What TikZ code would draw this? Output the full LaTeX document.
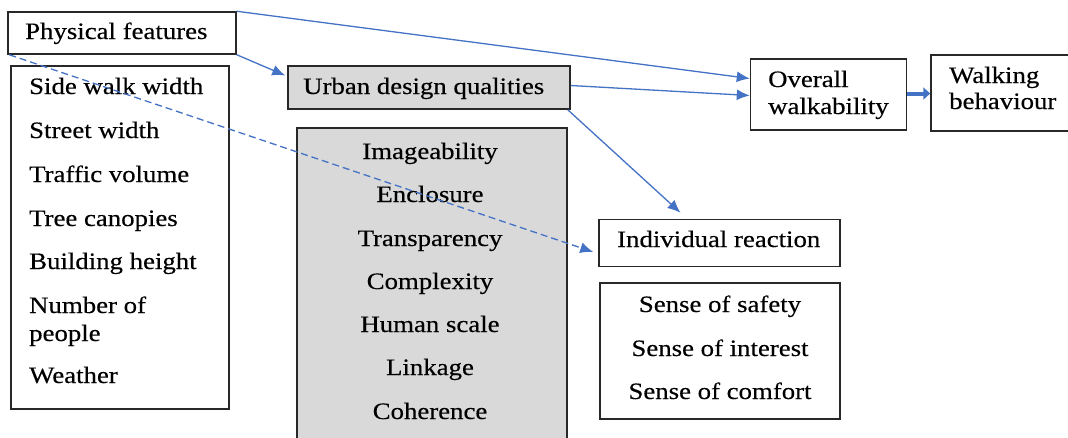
\documentclass[tikz,border=0pt]{standalone}
\usepackage{fontspec}
\setmainfont{Liberation Serif}[FakeStretch=1.14,FakeBold=0.35]
\usetikzlibrary{arrows.meta,calc}
\definecolor{arrowblue}{RGB}{68,114,196}
\definecolor{boxgray}{RGB}{217,217,217}
\definecolor{edge}{RGB}{40,40,40}
\begin{document}
\begin{tikzpicture}[x=1pt,y=-1pt,
  box/.style={draw=edge,line width=1.5pt,inner sep=0pt},
  graybox/.style={box,fill=boxgray},
  lbl/.style={inner sep=0pt,anchor=base west,font=\fontsize{23.5}{27}\selectfont,text=black},
  clbl/.style={lbl,anchor=base},
  conn/.style={draw=arrowblue,line width=1.3pt,-{Latex[length=13pt,width=11pt]}},
  thick conn/.style={draw=arrowblue,line width=4pt,-{Triangle[length=7pt,width=12pt]}}]
\useasboundingbox (0,0) rectangle (1068,437);
% boxes
\node[box,minimum width=228pt,minimum height=42pt] (pf) at (122,33) {};
\node[box,minimum width=218pt,minimum height=343pt] (pfl) at (120,237.5) {};
\node[graybox,minimum width=282pt,minimum height=43pt] (udq) at (429,87.5) {};
\node[graybox,minimum width=270pt,minimum height=330pt] (udl) at (432,293) {};
\node[box,minimum width=156pt,minimum height=71pt] (ow) at (828.5,94.5) {};
\node[box,minimum width=142pt,minimum height=76pt] (wb) at (1002,93) {};
\node[box,minimum width=241pt,minimum height=47pt] (ir) at (719.5,243) {};
\node[box,minimum width=240pt,minimum height=136pt] (irl) at (720,351) {};
% texts
\node[lbl] (tpf) at (25,39) {Physical features};
\node[lbl] (t1) at (29,94) {Side walk width};
\node[lbl] (t2) at (29,138) {Street width};
\node[lbl] (t3) at (29,182) {Traffic volume};
\node[lbl] (t4) at (29,226) {Tree canopies};
\node[lbl] (t5) at (29,269) {Building height};
\node[lbl] (t6) at (29,313) {Number of};
\node[lbl] (t6b) at (29,341) {people};
\node[lbl] (t7) at (29,383) {Weather};
\node[lbl] (tudq) at (303,94) {Urban design qualities};
\node[clbl] (u1) at (430,159) {Imageability};
\node[clbl] (u2) at (430,202) {Enclosure};
\node[clbl] (u3) at (430,246) {Transparency};
\node[clbl] (u4) at (430,289) {Complexity};
\node[clbl] (u5) at (430,332) {Human scale};
\node[clbl] (u6) at (430,375) {Linkage};
\node[clbl] (u7) at (430,419) {Coherence};
\node[lbl] (tow1) at (768,87) {Overall};
\node[lbl] (tow2) at (768,114) {walkability};
\node[lbl] (twb1) at (949,83) {Walking};
\node[lbl] (twb2) at (949,109) {behaviour};
\node[lbl] (tir) at (617,247) {Individual reaction};
\node[clbl] (s1) at (720,312) {Sense of safety};
\node[clbl] (s2) at (720,356) {Sense of interest};
\node[clbl] (s3) at (720,399) {Sense of comfort};
% connectors
\draw[conn] (pf.north east) -- ($(ow.west)+(0,-16)$);
\draw[conn] (pf.south east) -- ($(udq.west)+(-2,-12)$);
\draw[conn] ($(udq.east)+(0,-2)$) -- ($(ow.west)+(0,1)$);
\draw[conn] ($(udq.south east)+(-3,0)$) -- ($(ir.north)+(-39,-6)$);
\draw[conn,dashed,dash pattern=on 7pt off 4pt] ($(pf.south west)+(2,0)$) -- ($(ir.west)+(-5,9)$);
\draw[thick conn] ($(ow.east)+(0,-1)$) -- (wb.west |- 0,93.5);
\end{tikzpicture}
\end{document}
